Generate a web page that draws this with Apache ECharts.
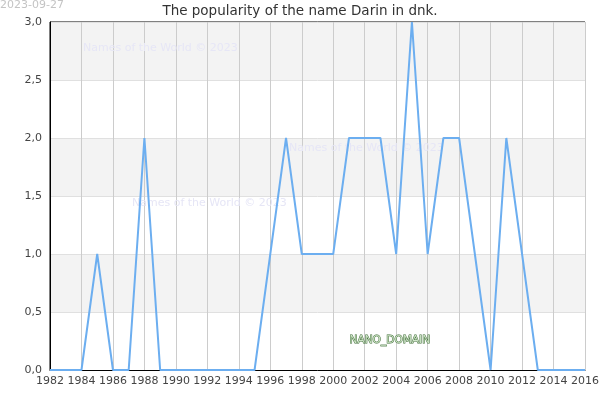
<!DOCTYPE html>
<html>
<head>
<meta charset="utf-8">
<script src="https://cdn.jsdelivr.net/npm/echarts@6/dist/echarts.min.js"></script>
<style>
  html, body { margin: 0; padding: 0; background: #fff; }
  #chart-container { width: 600px; height: 400px; }
</style>
</head>
<body>
<div id="chart-container"></div>
<script>
// years and counts
const years = [1982, 1983, 1984, 1985, 1986, 1987, 1988, 1989, 1990, 1991, 1992, 1993, 1994, 1995,
    1996, 1997, 1998, 1999, 2000, 2001, 2002, 2003, 2004, 2005, 2006, 2007, 2008, 2009, 2010,
    2011, 2012, 2013, 2014, 2015, 2016];
const counts = [0, 0, 0, 1, 0, 0, 2, 0, 0, 0, 0, 0, 0, 0,
    1, 2, 1, 1, 1, 2, 2, 2, 1, 3, 1, 2, 2, 1, 0,
    2, 1, 0, 0, 0, 0];
const titleText = 'The popularity of the name Darin in dnk.';
const dateText = '2023-09-27';
const watermark = 'Names of the World © 2023';

document.addEventListener('DOMContentLoaded', () => {
    const chart = echarts.init(document.getElementById('chart-container'));
    const lineData = years.map((y, i) => [y, counts[i]]);

    const option = {
        animation: false,
        title: {
            text: titleText,
            left: 'center',
            top: -1,
            textStyle: { fontSize: 13.5, fontWeight: 'normal', color: '#333', fontFamily: 'DejaVu Sans' },
        },
        grid: {
            left: 50, right: 15, top: 22, bottom: 30,
            outerBoundsMode: 'none',
            containLabel: false,
            show: true,
            borderColor: '#000',
            borderWidth: 1,
        },
        xAxis: {
            type: 'value',
            min: 1982,
            max: 2016,
            interval: 2,
            axisLine: { lineStyle: { color: '#000' } },
            axisTick: { show: false },
            axisLabel: {
                color: '#444', fontSize: 11, fontFamily: 'DejaVu Sans', margin: 6,
                showMinLabel: true, showMaxLabel: true, hideOverlap: false,
                formatter: v => String(v),
            },
            splitLine: { show: true, lineStyle: { color: '#ccc' } },
        },
        yAxis: {
            type: 'value',
            min: 0,
            max: 3,
            interval: 0.5,
            axisLine: { show: true, lineStyle: { color: '#000' } },
            axisTick: { show: false },
            axisLabel: {
                color: '#444', fontSize: 11, fontFamily: 'DejaVu Sans', margin: 8,
                formatter: v => v.toFixed(1).replace('.', ','),
            },
            splitLine: { show: true, lineStyle: { color: '#e0e0e0' } },
            splitArea: { show: true, areaStyle: { color: ['#fff', '#f3f3f3'] } },
        },
        graphic: [
            { type: 'text', left: 0, top: 0, z: 100, style: { text: dateText, fill: '#c4c4c4', fontSize: 11, fontFamily: 'DejaVu Sans' } },
            { type: 'text', left: 83, top: 43, z: 10, style: { text: watermark, fill: '#e6e6f6', fontSize: 11, fontFamily: 'DejaVu Sans' } },
            { type: 'text', left: 132, top: 198, z: 10, style: { text: watermark, fill: '#e6e6f6', fontSize: 11, fontFamily: 'DejaVu Sans' } },
            { type: 'text', left: 289, top: 143, z: 10, style: { text: watermark, fill: '#e6e6f6', fontSize: 11, fontFamily: 'DejaVu Sans' } },
            {
                type: 'text', left: 349, top: 334, z: 100,
                style: {
                    text: 'NANO_DOMAIN', fill: '#cfe5c8', stroke: '#3d6b35', lineWidth: 1,
                    fontSize: 10.6, fontFamily: 'DejaVu Sans',
                },
            },
        ],
        series: [
            {
                type: 'line',
                data: lineData,
                showSymbol: false,
                symbol: 'none',
                z: 50,
                lineStyle: { color: '#6caef0', width: 2 },
            },
        ],
    };

    chart.setOption(option);
});
</script>
</body>
</html>
